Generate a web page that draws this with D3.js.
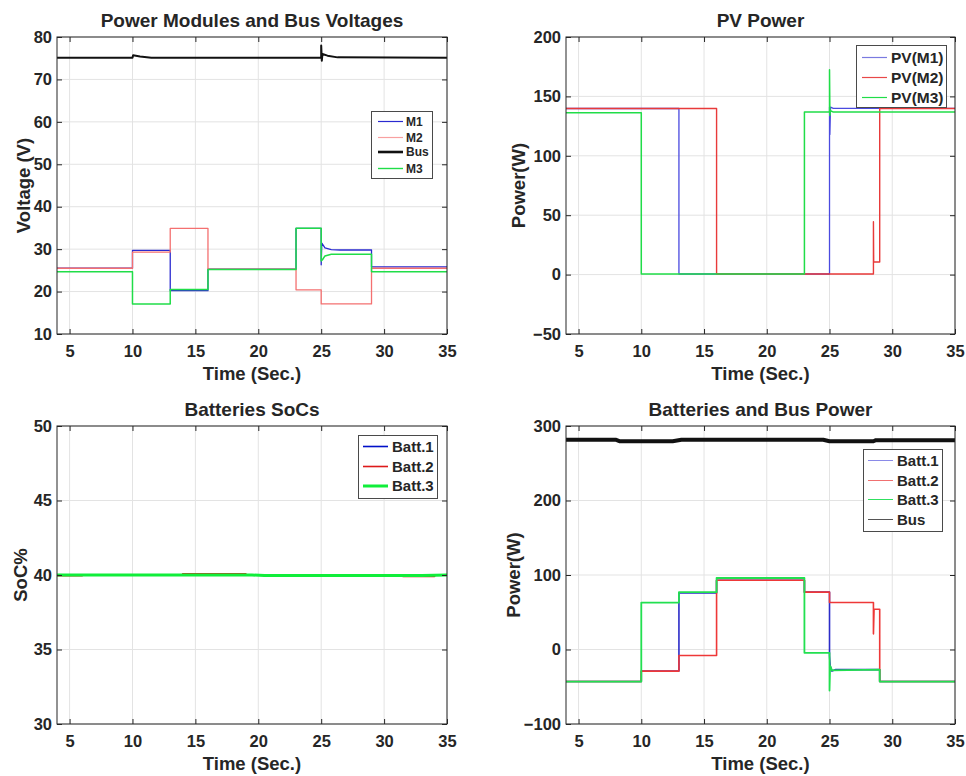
<!DOCTYPE html>
<html><head><meta charset="utf-8">
<script src="https://cdn.jsdelivr.net/npm/d3@7"></script>
<style>
html,body{margin:0;padding:0;background:#fff;}
text{font-family:"Liberation Sans",Arial,sans-serif;font-weight:bold;fill:#262626;}
</style></head>
<body><svg id="c" width="966" height="776"></svg>
<script>
// ---------- data ----------
const xTicks = [5,10,15,20,25,30,35];
const xDomain = [4,35];

const voltTicks = [10,20,30,40,50,60,70,80];
const voltM1  = [[4,25.5],[10,25.5],[10,29.7],[13,29.7],[13,20.2],[16,20.2],[16,25.3],[23,25.3],[23,34.9],[25,34.9],[25,26.3],[25.05,31.4],[25.3,30.3],[25.8,29.9],[26.5,29.8],[29,29.8],[29,25.8],[35,25.8]];
const voltM2  = [[4,25.5],[10,25.5],[10,29.3],[13,29.3],[13,34.9],[16,34.9],[16,25.3],[23,25.3],[23,20.4],[25,20.4],[25,17.1],[29,17.1],[29,25.5],[35,25.5]];
const voltBus = [[4,75.1],[10,75.1],[10.05,75.7],[10.6,75.4],[11.5,75.1],[25,75.1],[25,78],[25.05,74.4],[25.1,76],[25.5,75.6],[26.3,75.2],[35,75.1]];
const voltM3  = [[4,24.7],[10,24.7],[10,17.1],[13,17.1],[13,20.5],[16,20.5],[16,25.2],[23,25.2],[23,34.9],[25,34.9],[25,27.2],[25.1,27.5],[25.3,28.4],[25.8,28.8],[29,28.8],[29,24.7],[35,24.7]];

const pvTicks = [-50,0,50,100,150,200];
const pvM1 = [[4,139.8],[13,139.8],[13,0.5],[25,0.5],[25,141],[25.03,118],[25.08,141],[25.3,140],[35,140]];
const pvM2 = [[4,139.8],[16,139.8],[16,0.5],[28.5,0.5],[28.5,44.5],[28.52,10.6],[29,10.6],[29,139.8],[35,139.8]];
const pvM3 = [[4,136.3],[10,136.3],[10,0.5],[23,0.5],[23,136.8],[25,136.8],[25,172.5],[25.03,134],[25.08,138],[25.3,136.8],[35,136.8]];

const socTicks = [30,35,40,45,50];
const socB1 = [[4,40],[20.5,40],[20.5,39.93],[27,39.93],[28,39.96],[31,39.96],[31,40],[35,40]];
const socB2 = [[4,39.97],[6,39.97],[6,40],[14,40],[14,40.07],[19,40.07],[19,40],[20.5,40],[20.5,39.93],[25,39.93],[25,39.97],[31.5,39.97],[31.5,39.92],[34,39.92],[34,40],[35,40]];
const socB3 = [[4,40],[19.5,40],[20.5,39.97],[33,39.97],[35,40]];

const pwrTicks = [-100,0,100,200,300];
const pwrB1  = [[4,-43],[10,-43],[10,-29],[13,-29],[13,76],[16,76],[16,93],[23,93],[23,77],[25,77],[25,-8],[25.05,-22],[25.2,-29],[25.5,-27],[29,-27],[29,-43],[35,-43]];
const pwrB2  = [[4,-43],[10,-43],[10,-29],[13,-29],[13,-8],[16,-8],[16,93],[23,93],[23,77],[25,77],[25,63],[28.5,63],[28.5,21],[28.55,54],[29,54],[29,-43],[35,-43]];
const pwrB3  = [[4,-43],[10,-43],[10,63],[13,63],[13,77],[16,77],[16,96],[23,96],[23,-4.5],[25,-4.5],[25,-55],[25.05,-22],[25.2,-28],[29,-27],[29,-43],[35,-43]];
const pwrBus = [[4,281.5],[8,281.5],[8.3,279.5],[12.5,279.5],[13.2,281.5],[24.5,281.5],[25,279.5],[28.5,279.5],[28.7,281],[35,281]];

// ---------- drawing ----------
const svg = d3.select("#c");
svg.append("rect").attr("width",966).attr("height",776).attr("fill","#fff");
let clipId = 0;

function panel(cfg){
  const g = svg.append("g");
  const x = d3.scaleLinear().domain(xDomain).range([cfg.left,cfg.right]);
  const y = d3.scaleLinear().domain(cfg.yDomain).range([cfg.bottom,cfg.top]);
  const w = cfg.right-cfg.left, h = cfg.bottom-cfg.top;

  // grid
  const grid = g.append("g").attr("stroke","#e3e3e3").attr("stroke-width",1);
  xTicks.forEach(t=>grid.append("line").attr("x1",x(t)).attr("x2",x(t)).attr("y1",cfg.top).attr("y2",cfg.bottom));
  cfg.yTicks.forEach(t=>grid.append("line").attr("y1",y(t)).attr("y2",y(t)).attr("x1",cfg.left).attr("x2",cfg.right));

  // lines
  const id = "clip"+(clipId++);
  svg.append("clipPath").attr("id",id).append("rect").attr("x",cfg.left).attr("y",cfg.top).attr("width",w).attr("height",h);
  const line = d3.line().x(d=>x(d[0])).y(d=>y(d[1]));
  const lg = g.append("g").attr("clip-path",`url(#${id})`);
  cfg.series.forEach(s=>{
    lg.append("path").attr("d",line(s.data)).attr("fill","none")
      .attr("stroke",s.color).attr("stroke-width",s.width).attr("stroke-linejoin","round");
  });

  // axes (inward ticks, MATLAB style)
  const fs = "16.5px";
  const ax = g.append("g").attr("transform",`translate(0,${cfg.bottom})`)
    .call(d3.axisBottom(x).tickValues(xTicks).tickSizeInner(-5).tickSizeOuter(0).tickPadding(11));
  const ay = g.append("g").attr("transform",`translate(${cfg.left},0)`)
    .call(d3.axisLeft(y).tickValues(cfg.yTicks).tickSizeInner(-5).tickSizeOuter(0).tickPadding(5));
  const at = g.append("g").attr("transform",`translate(0,${cfg.top})`)
    .call(d3.axisTop(x).tickValues(xTicks).tickSizeInner(-5).tickSizeOuter(0).tickFormat(""));
  const ar = g.append("g").attr("transform",`translate(${cfg.right},0)`)
    .call(d3.axisRight(y).tickValues(cfg.yTicks).tickSizeInner(-5).tickSizeOuter(0).tickFormat(""));
  [ax,ay,at,ar].forEach(a=>{
    a.select(".domain").remove();
    a.selectAll("line").attr("stroke","#262626");
    a.selectAll("text").attr("font-size",fs).attr("fill","#262626")
      .attr("font-family","Liberation Sans, Arial, sans-serif").attr("font-weight","bold");
  });
  g.append("rect").attr("x",cfg.left).attr("y",cfg.top).attr("width",w).attr("height",h)
    .attr("fill","none").attr("stroke","#262626").attr("stroke-width",1);

  // title / labels
  g.append("text").attr("x",(cfg.left+cfg.right)/2).attr("y",cfg.top-10).attr("text-anchor","middle")
    .attr("font-size","19px").text(cfg.title);
  g.append("text").attr("x",(cfg.left+cfg.right)/2).attr("y",cfg.bottom+46).attr("text-anchor","middle")
    .attr("font-size","18.5px").text("Time (Sec.)");
  g.append("text").attr("transform",`translate(${cfg.ylabelX},${(cfg.top+cfg.bottom)/2}) rotate(-90)`)
    .attr("text-anchor","middle").attr("font-size","18.5px").text(cfg.ylabel);

  // legend
  const L = cfg.legend;
  const lgd = g.append("g");
  lgd.append("rect").attr("x",L.x+0.5).attr("y",L.y+0.5).attr("width",L.w).attr("height",L.h)
    .attr("fill","#fff").attr("stroke","#4a4a4a").attr("stroke-width",1);
  L.items.forEach((it,i)=>{
    const yy = Math.round(L.y0 + i*L.dy) + (it.width < 2 ? 0.5 : 0);
    lgd.append("line").attr("x1",L.lx1).attr("x2",L.lx2).attr("y1",yy).attr("y2",yy)
      .attr("stroke",it.color).attr("stroke-width",it.width);
    lgd.append("text").attr("x",L.tx).attr("y",yy).attr("dy","0.36em")
      .attr("font-size",L.fs).text(it.label);
  });
}

const cM1="#2a2ad0", cM2="#f47070", cM3="#20dd48";

panel({left:57,right:447,top:37,bottom:334,yDomain:[10,80],yTicks:voltTicks,
  title:"Power Modules and Bus Voltages",ylabel:"Voltage (V)",ylabelX:30,
  series:[{data:voltM1,color:cM1,width:1.3},{data:voltM2,color:cM2,width:1.3},
          {data:voltBus,color:"#111",width:2},{data:voltM3,color:cM3,width:1.5}],
  legend:{x:371,y:111,w:61,h:67,y0:121,dy:15.6,lx1:378,lx2:403,tx:406,fs:"12px",
    items:[{label:"M1",color:cM1,width:1.2},{label:"M2",color:"#f8a0a0",width:1.2},
           {label:"Bus",color:"#111",width:2.6},{label:"M3",color:cM3,width:1.4}]}
});

panel({left:566,right:955,top:37,bottom:334,yDomain:[-50,200],yTicks:pvTicks,
  title:"PV Power",ylabel:"Power(W)",ylabelX:525,
  series:[{data:pvM1,color:"#4a4ae0",width:1.3},{data:pvM2,color:"#e83a3a",width:1.4},
          {data:pvM3,color:cM3,width:1.5}],
  legend:{x:856,y:45,w:90,h:62,y0:57,dy:20,lx1:862,lx2:887,tx:891,fs:"15.5px",
    items:[{label:"PV(M1)",color:"#7a7ae0",width:1.2},{label:"PV(M2)",color:"#e84848",width:1.2},
           {label:"PV(M3)",color:cM3,width:1.2}]}
});

panel({left:57,right:447,top:426,bottom:724,yDomain:[30,50],yTicks:socTicks,
  title:"Batteries SoCs",ylabel:"SoC%",ylabelX:27,
  series:[{data:socB1,color:"#0010c8",width:2},{data:socB2,color:"#dd1a1a",width:2},
          {data:socB3,color:"#10ee3a",width:3}],
  legend:{x:358,y:435,w:79,h:63,y0:446,dy:20,lx1:363,lx2:388,tx:392,fs:"15px",
    items:[{label:"Batt.1",color:"#0010c8",width:1.6},{label:"Batt.2",color:"#dd1a1a",width:1.6},
           {label:"Batt.3",color:"#10ee3a",width:3}]}
});

panel({left:566,right:955,top:426,bottom:724,yDomain:[-100,300],yTicks:pwrTicks,
  title:"Batteries and Bus Power",ylabel:"Power(W)",ylabelX:520,
  series:[{data:pwrB1,color:"#2c2cc8",width:1.6},{data:pwrB2,color:"#ee3838",width:1.6},
          {data:pwrB3,color:"#22e050",width:1.8},{data:pwrBus,color:"#111",width:4}],
  legend:{x:863,y:449,w:79,h:82,y0:460,dy:19.7,lx1:868,lx2:893,tx:897,fs:"15px",
    items:[{label:"Batt.1",color:"#8a8ae8",width:1},{label:"Batt.2",color:"#f07070",width:1},
           {label:"Batt.3",color:"#30e060",width:1},{label:"Bus",color:"#555",width:1}]}
});
</script></body></html>
